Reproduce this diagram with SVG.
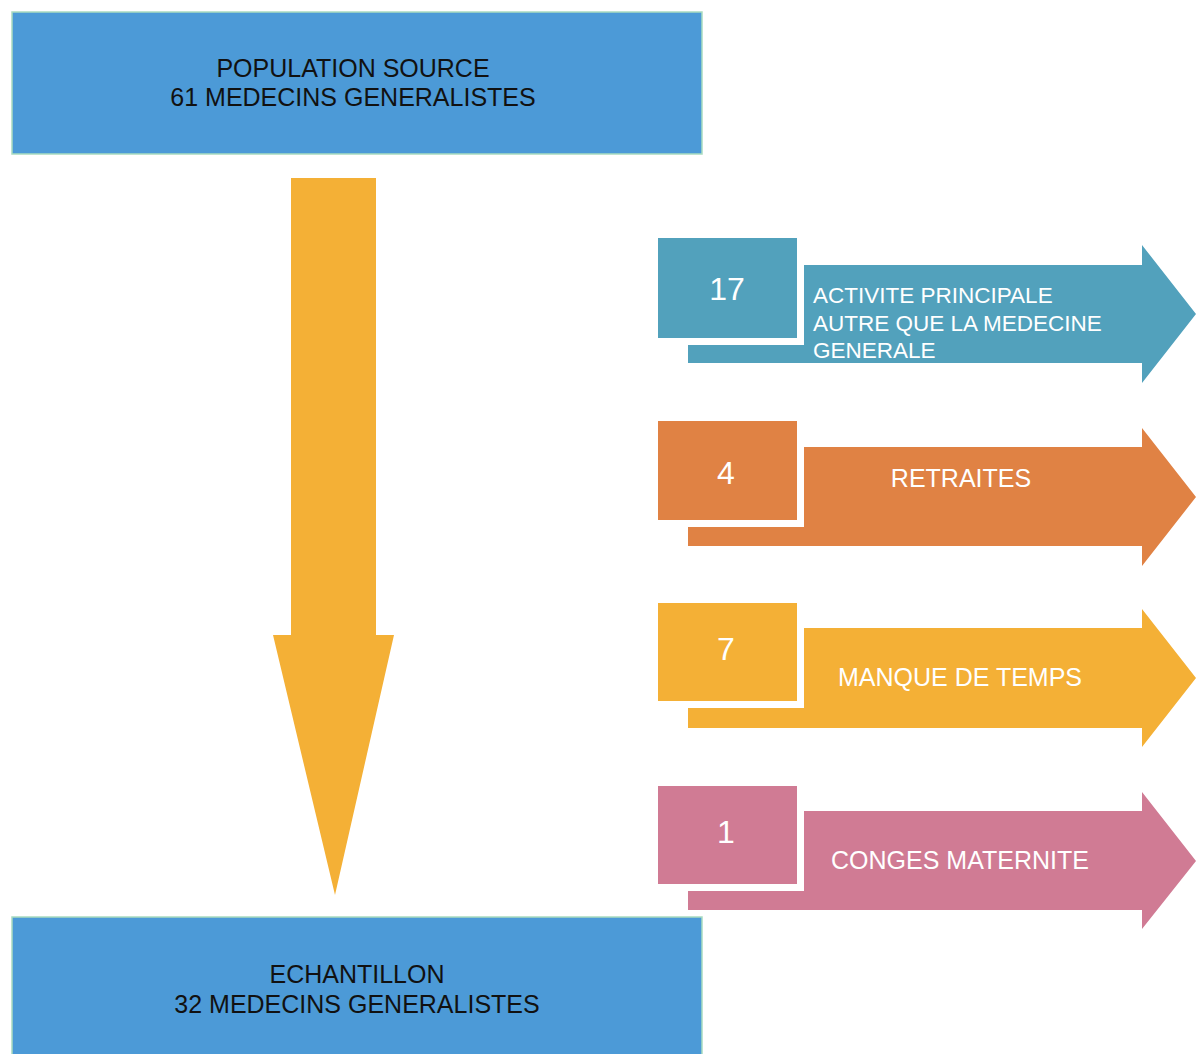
<svg xmlns="http://www.w3.org/2000/svg" width="1196" height="1054" viewBox="0 0 1196 1054">
<style>
.box{fill:#4c9ad7;stroke:#a9dcc0;stroke-width:1.5}
.btxt{font-family:"Liberation Sans",Arial,sans-serif;font-size:25px;fill:#111;text-anchor:middle}
.num{font-family:"Liberation Sans",Arial,sans-serif;font-size:32px;fill:#fff;text-anchor:middle}
.lbl{font-family:"Liberation Sans",Arial,sans-serif;font-size:25px;fill:#fff;text-anchor:middle}
.lbl1{font-family:"Liberation Sans",Arial,sans-serif;font-size:22.5px;fill:#fff}
.sq{stroke:#fff;stroke-width:14}
</style>
<rect width="1196" height="1054" fill="#fff"/>
<g id="population-source">
<rect class="box" x="12" y="12" width="690" height="142"/>
<text class="btxt" x="353" y="77">POPULATION SOURCE</text>
<text class="btxt" x="353" y="106">61 MEDECINS GENERALISTES</text>
</g>
<g id="connectors">
<polygon id="main-arrow" fill="#f4b036" points="291,178 376,178 376,635 394,635 335,895 273,635 291,635"/>
</g>
<g id="echantillon">
<rect class="box" x="12" y="917" width="690" height="140"/>
<text class="btxt" x="357" y="983">ECHANTILLON</text>
<text class="btxt" x="357" y="1013">32 MEDECINS GENERALISTES</text>
</g>
<g id="exclusion-activite">
<polygon fill="#52a1bc" points="688,265 1142,265 1142,245 1196,314 1142,383 1142,363 688,363"/>
<rect class="sq" fill="#52a1bc" x="658" y="238" width="139" height="100"/>
<rect fill="#52a1bc" x="658" y="238" width="139" height="100"/>
<text class="num" x="727" y="300">17</text>
<text class="lbl1" x="813" y="303">ACTIVITE PRINCIPALE</text>
<text class="lbl1" x="813" y="331">AUTRE QUE LA MEDECINE</text>
<text class="lbl1" x="813" y="358">GENERALE</text>
</g>
<g id="exclusion-retraites">
<polygon fill="#e08244" points="688,447 1142,447 1142,428 1196,497 1142,566 1142,546 688,546"/>
<rect class="sq" fill="#e08244" x="658" y="421" width="139" height="99"/>
<rect fill="#e08244" x="658" y="421" width="139" height="99"/>
<text class="num" x="726" y="484">4</text>
<text class="lbl" x="961" y="487">RETRAITES</text>
</g>
<g id="exclusion-temps">
<polygon fill="#f4b036" points="688,628 1142,628 1142,609 1196,678 1142,747 1142,728 688,728"/>
<rect class="sq" fill="#f4b036" x="658" y="603" width="139" height="98"/>
<rect fill="#f4b036" x="658" y="603" width="139" height="98"/>
<text class="num" x="726" y="660">7</text>
<text class="lbl" x="960" y="686">MANQUE DE TEMPS</text>
</g>
<g id="exclusion-conges">
<polygon fill="#d07b94" points="688,811 1142,811 1142,792 1196,861 1142,929 1142,910 688,910"/>
<rect class="sq" fill="#d07b94" x="658" y="786" width="139" height="98"/>
<rect fill="#d07b94" x="658" y="786" width="139" height="98"/>
<text class="num" x="726" y="843">1</text>
<text class="lbl" x="960" y="869">CONGES MATERNITE</text>
</g>
</svg>
